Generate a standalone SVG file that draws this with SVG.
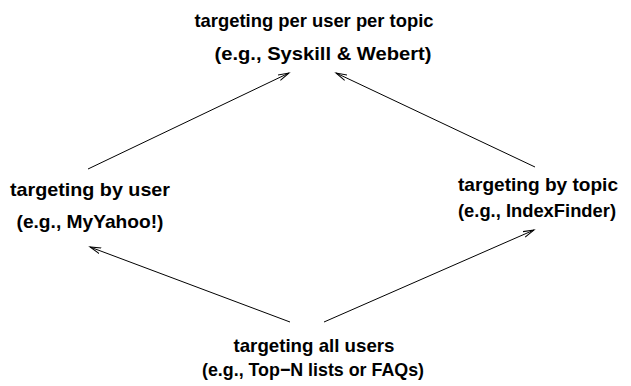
<svg xmlns="http://www.w3.org/2000/svg" width="631" height="386" viewBox="0 0 631 386">
<style>
text{font-family:"Liberation Sans",Arial,sans-serif;font-weight:bold;font-size:19px;fill:#000;text-anchor:middle}
.c line{stroke:#000;stroke-width:1;fill:none;marker-end:url(#ah)}
</style>
<defs>
<marker id="ah" markerUnits="userSpaceOnUse" markerWidth="14" markerHeight="8" refX="11" refY="4" orient="auto">
<path d="M0,1 L11,4 L0,7" fill="none" stroke="#000" stroke-width="1"/>
</marker>
</defs>
<rect width="631" height="386" fill="#fff"/>
<g id="top">
<text x="314" y="27" textLength="239" lengthAdjust="spacingAndGlyphs">targeting per user per topic</text>
<text x="323" y="60" textLength="217" lengthAdjust="spacingAndGlyphs">(e.g., Syskill &amp; Webert)</text>
</g>
<g id="left">
<text x="90" y="196" textLength="160" lengthAdjust="spacingAndGlyphs">targeting by user</text>
<text x="90" y="228" textLength="147" lengthAdjust="spacingAndGlyphs">(e.g., MyYahoo!)</text>
</g>
<g id="right">
<text x="538" y="191" textLength="160" lengthAdjust="spacingAndGlyphs">targeting by topic</text>
<text x="537" y="217" textLength="158" lengthAdjust="spacingAndGlyphs">(e.g., IndexFinder)</text>
</g>
<g id="bottom">
<text x="314" y="352" textLength="161" lengthAdjust="spacingAndGlyphs">targeting all users</text>
<text x="313" y="376" textLength="222" lengthAdjust="spacingAndGlyphs">(e.g., Top−N lists or FAQs)</text>
</g>
<g class="c" id="connectors">
<line x1="88" y1="169" x2="289" y2="73"/>
<line x1="535" y1="167" x2="336" y2="73"/>
<line x1="290" y1="322" x2="90" y2="247"/>
<line x1="324" y1="322" x2="534" y2="230"/>
</g>
</svg>
